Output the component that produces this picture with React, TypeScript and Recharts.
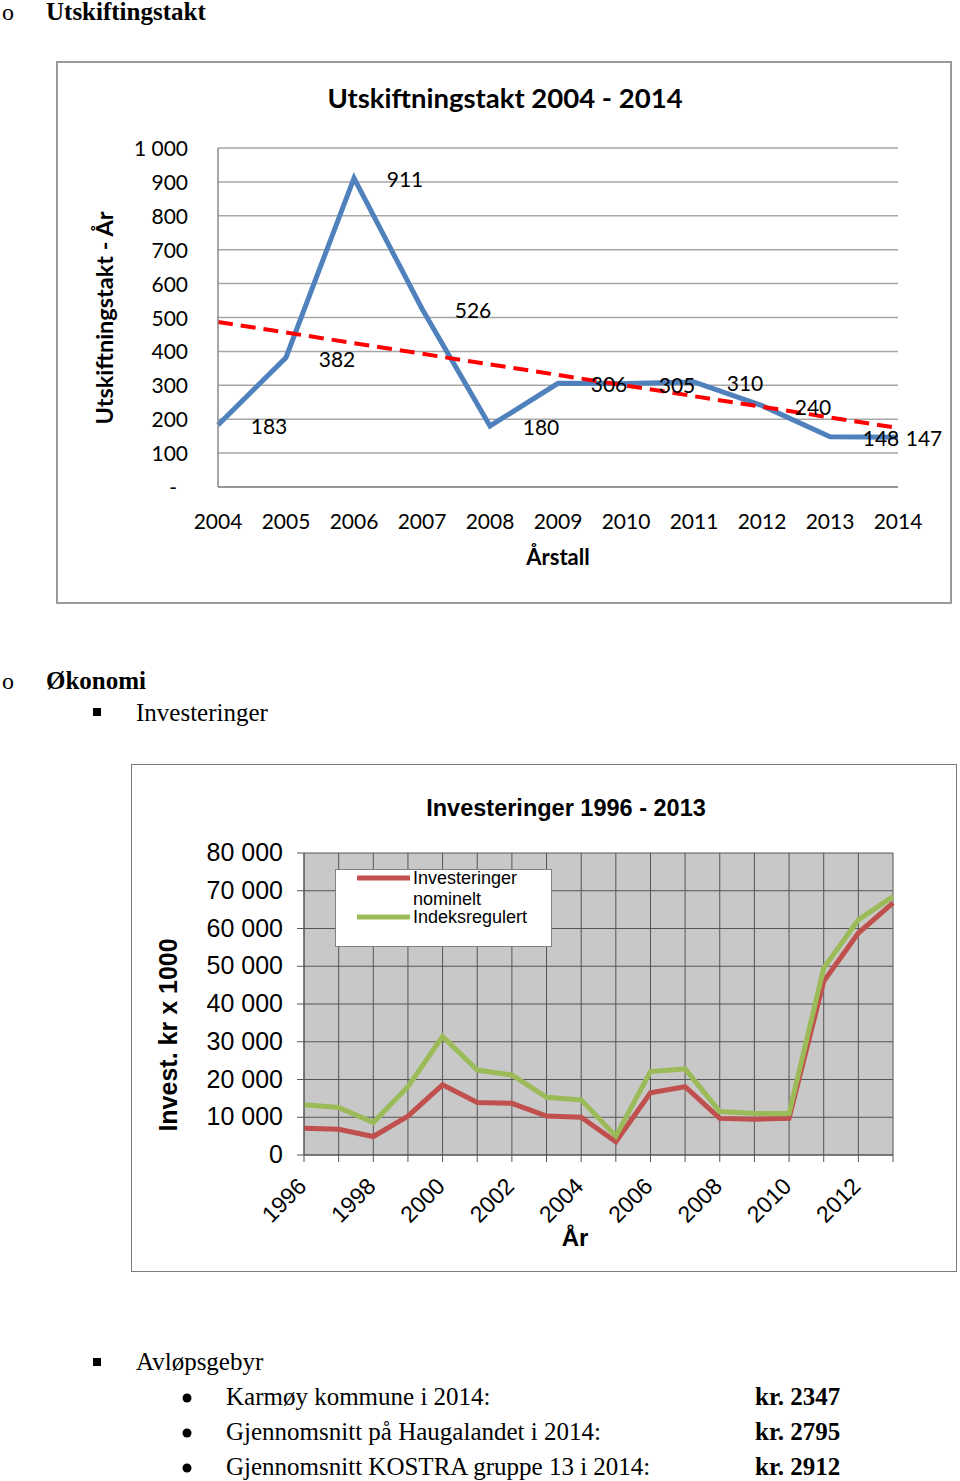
import React from 'react';
import { LineChart, Line, XAxis, YAxis, CartesianGrid, Legend, LabelList } from 'recharts';

// ---------- Chart 1 data ----------
const years1 = ['2004', '2005', '2006', '2007', '2008', '2009', '2010', '2011', '2012', '2013', '2014'];
const replacementRate = [183, 382, 911, 526, 180, 306, 305, 310, 240, 148, 147];
const trendEnds = [487, 174];
const yTicks1 = [0, 100, 200, 300, 400, 500, 600, 700, 800, 900, 1000];

// ---------- Chart 2 data ----------
const years2 = ['1996', '1997', '1998', '1999', '2000', '2001', '2002', '2003', '2004', '2005', '2006', '2007', '2008', '2009', '2010', '2011', '2012', '2013'];
const nominal = [7100, 6800, 4900, 10300, 18600, 13900, 13700, 10300, 10000, 3500, 16500, 18100, 9700, 9500, 9700, 46000, 58800, 66800];
const indexed = [13300, 12600, 8600, 18100, 31400, 22500, 21200, 15300, 14600, 5000, 22100, 22800, 11500, 11000, 11000, 49500, 62300, 68500];
const yTicks2 = [0, 10000, 20000, 30000, 40000, 50000, 60000, 70000, 80000];
const seriesKeys2 = ['nominal', 'indexed'];
const seriesNames2 = ['Investeringer nominelt', 'Indeksregulert'];

const data1 = years1.map((year, i) => ({
  year,
  rate: replacementRate[i],
  trend: i === 0 ? trendEnds[0] : i === years1.length - 1 ? trendEnds[1] : null,
}));

const data2 = years2.map((year, i) => ({ year, nominal: nominal[i], indexed: indexed[i] }));

const CAL = 'Lato, "Open Sans", sans-serif';
const ARI = '"Liberation Sans", Arial, sans-serif';
const SER = '"Liberation Serif", "Times New Roman", serif';

const fmtSpace = (v: number) => String(v).replace(/\B(?=(\d{3})+(?!\d))/g, ' ');

const Tick1X = (props: any) => {
  const { x, y, payload } = props;
  return (
    <text x={x} y={y + 42} textAnchor="middle" fontFamily={CAL} fontSize={21} fill="#000">
      {payload.value}
    </text>
  );
};

const Tick1Y = (props: any) => {
  const { x, y, payload } = props;
  const v = payload.value;
  return (
    <text x={v === 0 ? x - 41 : x - 30} y={y + 8} textAnchor="end" fontFamily={CAL} fontSize={21} fill="#000">
      {v === 0 ? '-' : fmtSpace(v)}
    </text>
  );
};

const RateLabel = (props: any) => {
  const { x, y, value } = props;
  const cx = Math.min(x + 51, 867);
  return (
    <text x={cx} y={y + 9} textAnchor="middle" fontFamily={CAL} fontSize={21} fill="#000">
      {value}
    </text>
  );
};

const Tick2X = (props: any) => {
  const { x, y, payload, index } = props;
  if (index % 2 !== 0) return <g />;
  return (
    <g transform={`translate(${x - 2},${y + 20})`}>
      <text x={0} y={0} dy="0.35em" textAnchor="end" transform="rotate(-45)" fontFamily={ARI} fontSize={23} fill="#000">
        {payload.value}
      </text>
    </g>
  );
};

const Tick2Y = (props: any) => {
  const { x, y, payload } = props;
  return (
    <text x={x} y={y + 8} textAnchor="end" fontFamily={ARI} fontSize={25} fill="#000">
      {fmtSpace(payload.value)}
    </text>
  );
};

const LegendBox = (props: any) => {
  const raw = (props.payload || []) as any[];
  const payload = seriesKeys2
    .map((k) => raw.find((p) => p.dataKey === k))
    .filter(Boolean) as any[];
  let base = 15;
  const items: React.ReactNode[] = [];
  payload.forEach((p, i) => {
    const name = seriesNames2[i];
    const words = name.split(' ');
    const lines: string[] = [];
    words.forEach((w) => {
      const last = lines[lines.length - 1];
      if (last && (last + ' ' + w).length <= 14) lines[lines.length - 1] = last + ' ' + w;
      else lines.push(w);
    });
    items.push(
      <g key={i}>
        <line x1={22} x2={75} y1={base - 6} y2={base - 6} stroke={p.color} strokeWidth={5} />
        {lines.map((l, k) => (
          <text key={k} x={78} y={base + 21 * k} fontFamily={ARI} fontSize={18} fill="#000">
            {l}
          </text>
        ))}
      </g>
    );
    base = base + 21 * (lines.length - 1) + 18;
  });
  return (
    <svg width={217} height={78} style={{ display: 'block' }}>
      <rect x={0.5} y={0.5} width={216} height={77} fill="#fff" stroke="#808080" strokeWidth={1} />
      {items}
    </svg>
  );
};

export default function App() {
  return (
    <div style={{ position: 'absolute', left: 0, top: 0, width: 960, height: 1481, background: '#fff' }}>
      {/* Chart 1 frame */}
      <div style={{ position: 'absolute', left: 56, top: 61, width: 896, height: 543, border: '2px solid #9a9a9a', boxSizing: 'border-box', background: '#fff' }} />
      <div style={{ position: 'absolute', left: 57, top: 62 }}>
        <LineChart width={894} height={541} data={data1} margin={{ top: 86, right: 53, left: 0, bottom: 0 }}>
          <CartesianGrid vertical={false} stroke="#a6a6a6" strokeWidth={1.5} />
          <XAxis dataKey="year" height={116} interval={0} axisLine={{ stroke: '#8a8a8a', strokeWidth: 1.5 }} tickLine={false} tickSize={0} tickMargin={0} tick={<Tick1X />} />
          <YAxis width={161} domain={[0, 1000]} ticks={yTicks1} interval={0} axisLine={{ stroke: '#8a8a8a', strokeWidth: 1.5 }} tickLine={false} tickSize={0} tickMargin={0} tick={<Tick1Y />} />
          <Line dataKey="rate" stroke="#4f81bd" strokeWidth={5} dot={false} isAnimationActive={false}>
            <LabelList dataKey="rate" content={<RateLabel />} />
          </Line>
          <Line dataKey="trend" connectNulls stroke="#ff0000" strokeWidth={4} strokeDasharray="15 8" dot={false} isAnimationActive={false} />
        </LineChart>
      </div>

      {/* Chart 2 frame */}
      <div style={{ position: 'absolute', left: 131, top: 764, width: 826, height: 508, border: '1.5px solid #7a7a7a', boxSizing: 'border-box', background: '#fff' }} />
      <div style={{ position: 'absolute', left: 131, top: 764 }}>
        <LineChart width={826} height={508} data={data2} margin={{ top: 89, right: 64, left: 0, bottom: 0 }}>
          <CartesianGrid fill="#c8c8c8" fillOpacity={1} stroke="#555" strokeWidth={1} />
          <XAxis dataKey="year" height={117} interval={0} axisLine={{ stroke: '#555', strokeWidth: 1 }} tickLine={{ stroke: '#555' }} tickSize={7} tickMargin={0} tick={<Tick2X />} />
          <YAxis width={173} domain={[0, 80000]} ticks={yTicks2} interval={0} axisLine={{ stroke: '#555', strokeWidth: 1 }} tickLine={{ stroke: '#555' }} tickSize={7} tickMargin={14} tick={<Tick2Y />} />
          <Legend layout="horizontal" verticalAlign="middle" align="center" content={<LegendBox />} wrapperStyle={{ position: 'absolute', left: 204, top: 105, width: 217, height: 78 }} />
          <Line name={seriesNames2[0]} dataKey="nominal" stroke="#c0504d" strokeWidth={5} dot={false} isAnimationActive={false} />
          <Line name={seriesNames2[1]} dataKey="indexed" stroke="#9bbb59" strokeWidth={5} dot={false} isAnimationActive={false} />
        </LineChart>
      </div>

      {/* Page text and chart titles */}
      <svg width={960} height={1481} style={{ position: 'absolute', left: 0, top: 0, pointerEvents: 'none' }}>
        <g fontFamily={SER} fill="#000">
          <text x={2} y={20} fontSize={24}>o</text>
          <text x={46} y={20} fontSize={25} fontWeight="bold">Utskiftingstakt</text>
          <text x={2} y={689} fontSize={24}>o</text>
          <text x={46} y={689} fontSize={25} fontWeight="bold">Økonomi</text>
          <rect x={93} y={708} width={8} height={8} fill="#000" />
          <text x={136} y={721} fontSize={25}>Investeringer</text>
          <rect x={93} y={1358} width={8} height={8} fill="#000" />
          <text x={136} y={1370} fontSize={25}>Avløpsgebyr</text>
          <circle cx={187} cy={1398} r={4.5} fill="#000" />
          <text x={226} y={1405} fontSize={25}>Karmøy kommune i 2014:</text>
          <text x={755} y={1405} fontSize={25} fontWeight="bold">kr. 2347</text>
          <circle cx={187} cy={1433} r={4.5} fill="#000" />
          <text x={226} y={1440} fontSize={25}>Gjennomsnitt på Haugalandet i 2014:</text>
          <text x={755} y={1440} fontSize={25} fontWeight="bold">kr. 2795</text>
          <circle cx={187} cy={1468} r={4.5} fill="#000" />
          <text x={226} y={1475} fontSize={25}>Gjennomsnitt KOSTRA gruppe 13 i 2014:</text>
          <text x={755} y={1475} fontSize={25} fontWeight="bold">kr. 2912</text>
        </g>
        <g fontFamily={CAL} fill="#000" fontWeight="bold">
          <text x={505} y={108} fontSize={27.5} textAnchor="middle">Utskiftningstakt 2004 - 2014</text>
          <text x={558} y={565} fontSize={22} textAnchor="middle">Årstall</text>
          <text transform="translate(113,318) rotate(-90)" fontSize={23.5} textAnchor="middle">Utskiftningstakt - År</text>
        </g>
        <g fontFamily={ARI} fill="#000" fontWeight="bold">
          <text x={566} y={816} fontSize={23.5} textAnchor="middle">Investeringer 1996 - 2013</text>
          <text x={575} y={1246} fontSize={24} textAnchor="middle">År</text>
          <text transform="translate(177,1035) rotate(-90)" fontSize={25} textAnchor="middle">Invest. kr x 1000</text>
        </g>
      </svg>
    </div>
  );
}
